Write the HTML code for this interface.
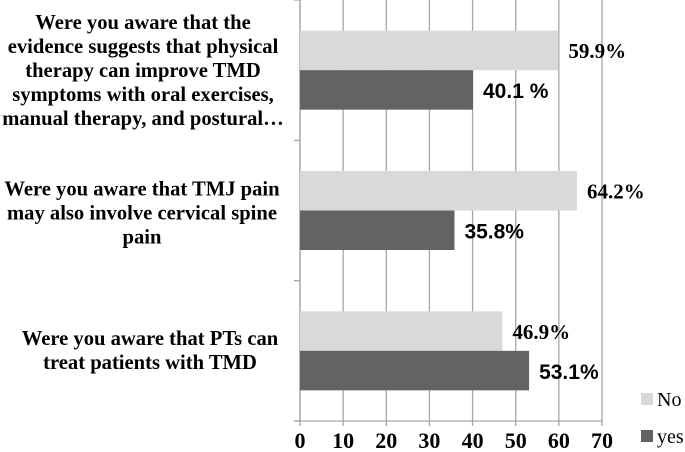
<!DOCTYPE html>
<html><head><meta charset="utf-8"><style>
body{margin:0;background:#fff;}
svg{display:block;}
.cat{font-family:"Liberation Serif",serif;font-weight:bold;font-size:20.6px;fill:#000;}
.tick{font-family:"Liberation Serif",serif;font-weight:bold;font-size:22px;fill:#000;}
.val{font-weight:bold;font-size:21px;fill:#000;}
</style></head><body>
<svg id="chart" width="685" height="452"></svg>
<script>
const categories=[
 ["Were you aware that the","evidence suggests that physical","therapy can improve TMD","symptoms with oral exercises,","manual therapy, and postural…"],
 ["Were you aware that TMJ pain","may also involve cervical spine","pain"],
 ["Were you aware that PTs can","treat patients with TMD"]];
const noValues=[59.9,64.2,46.9];
const yesValues=[40.1,35.8,53.1];
const noLabels=["59.9%","64.2%","46.9%"];
const yesLabels=["40.1 %","35.8%","53.1%"];
const ticks=[0,10,20,30,40,50,60,70];
const NS="http://www.w3.org/2000/svg";
const svg=document.getElementById('chart');
const x0=300,x1=602,yTop=0,yBot=421,xMax=70;
const xs=v=>x0+(x1-x0)*v/xMax;
const band=(yBot-yTop)/categories.length;
const labelShift=[0,2,-1];
const labelCenter=[143,142,150];
function el(t,a){const e=document.createElementNS(NS,t);for(const k in a)e.setAttribute(k,a[k]);svg.appendChild(e);return e;}
ticks.forEach(t=>{
 const g=el('line',{x1:xs(t),x2:xs(t),y1:yTop,y2:yBot+5,stroke:'#a6a6a6','stroke-width':1.3});
 
 
 const tx=el('text',{x:xs(t),y:448,'text-anchor':'middle',class:'tick'});tx.textContent=t;
 
 
});
const ax=el('line',{x1:x0,x2:x0,y1:yTop,y2:yBot,stroke:'#a6a6a6','stroke-width':1.3});


const bx=el('line',{x1:x0-6,x2:x1,y1:yBot,y2:yBot,stroke:'#a6a6a6','stroke-width':1.3});


for(let i=0;i<=categories.length;i++){
 const l=el('line',{x1:x0-6,x2:x0,y1:yTop+band*i,y2:yTop+band*i,stroke:'#a6a6a6','stroke-width':1.3});
 
 
}
const bh=39.5;
categories.forEach((lines,i)=>{
 const c=yTop+band*i+band/2;
 const rn=el('rect',{x:x0,y:c-bh,width:xs(noValues[i])-x0,height:bh,fill:'#d9d9d9'});
 
 
 const ry=el('rect',{x:x0,y:c,width:xs(yesValues[i])-x0,height:bh,fill:'#636363'});
 
 
 const tn=el('text',{x:xs(noValues[i])+10,y:c-12,class:'val','font-family':'Liberation Serif,serif'});tn.textContent=noLabels[i];
 
 
 const ty=el('text',{x:xs(yesValues[i])+10,y:c+28,class:'val','font-family':'Liberation Sans,sans-serif','font-size':'19px'});ty.textContent=yesLabels[i];
 
 
 const lh=24,start=c-(lines.length-1)*lh/2+7+labelShift[i];
 lines.forEach((s,j)=>{
  const t=el('text',{x:labelCenter[i],y:start+j*lh,'text-anchor':'middle',class:'cat'});t.textContent=s;
  
  
 });
});
[['No','#d9d9d9',400],['yes','#636363',437]].forEach(([n,c,y])=>{
 const r=el('rect',{x:641,y:y-7,width:12,height:12,fill:c});
 
 
 const t=el('text',{x:657,y:y+6,'font-family':'Liberation Serif,serif','font-size':'20px'});t.textContent=n;
 
 
});
</script>
</body></html>
